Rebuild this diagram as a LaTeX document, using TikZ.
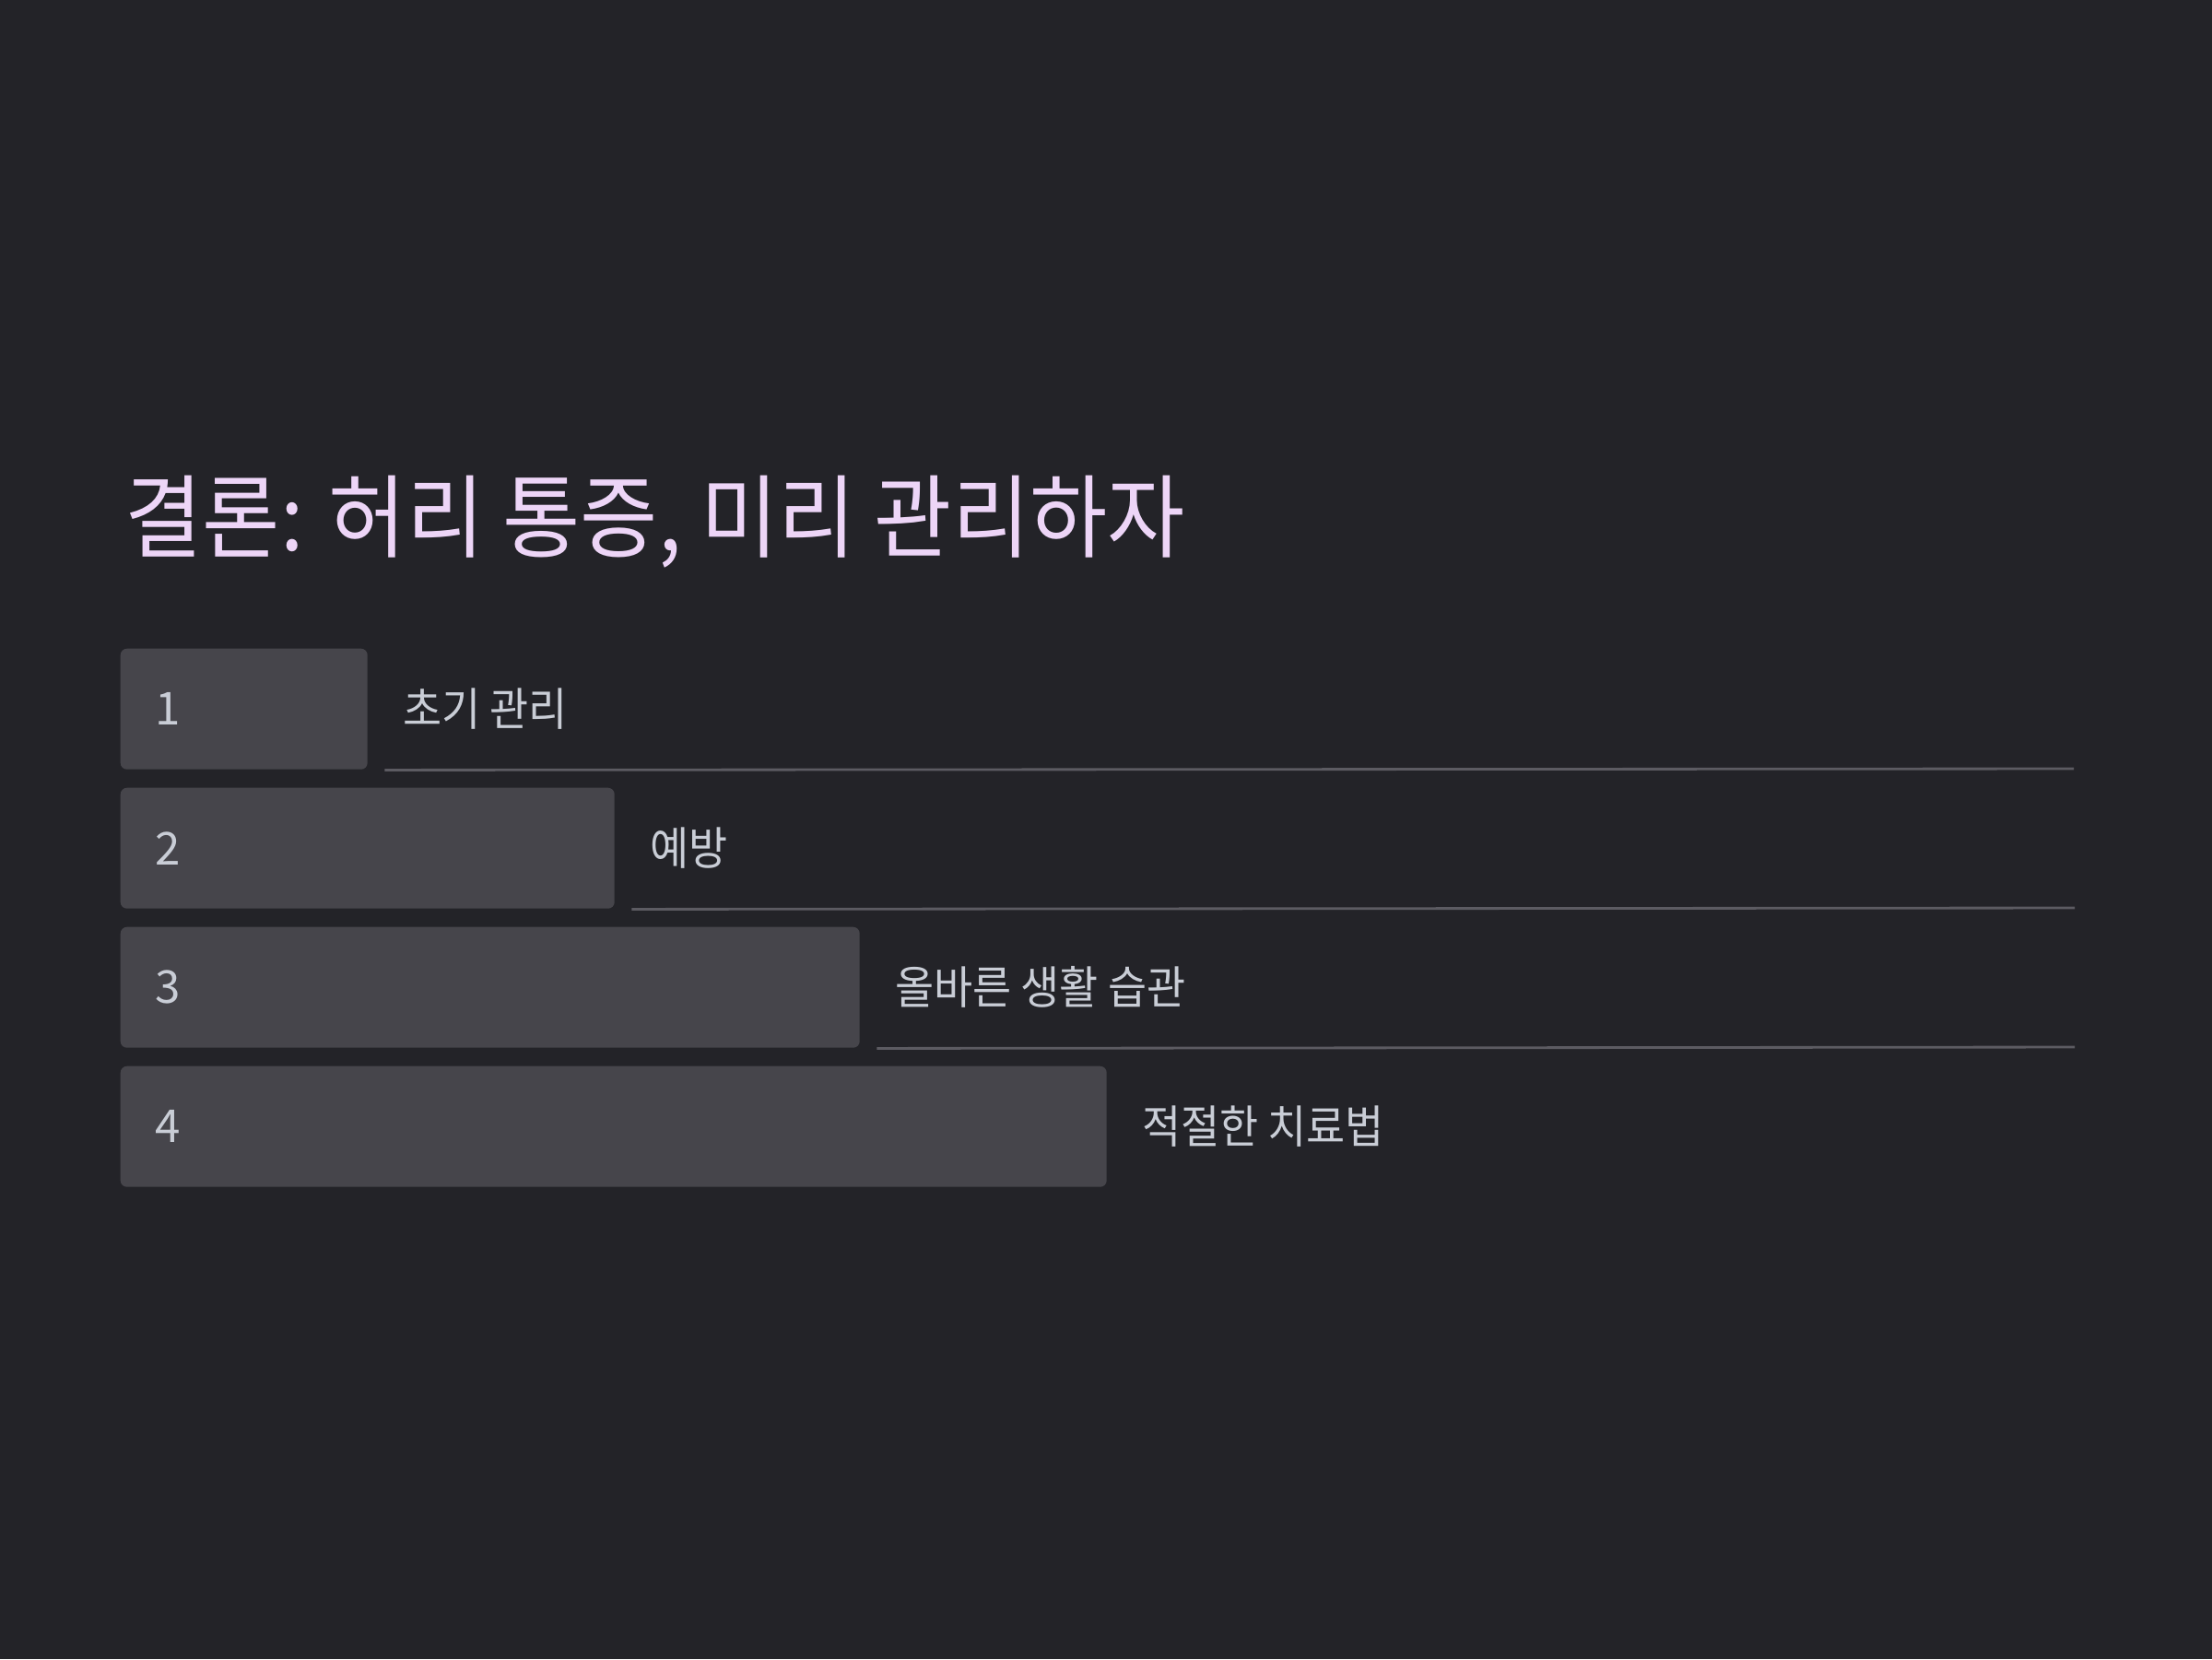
\documentclass[tikz,border=0pt]{standalone}
\usepackage{fontspec}
\setmainfont[FakeStretch=0.93]{Noto Sans CJK KR}
\newfontfamily\digitfont{Noto Sans CJK KR}
\usepackage{xcolor}
\usepackage{tikz}

\definecolor{pagebg}{HTML}{232328}
\definecolor{barfill}{HTML}{46454B}
\definecolor{titlecol}{HTML}{EDD5F7}
\definecolor{textcol}{HTML}{C9CDD6}
\definecolor{rulecol}{HTML}{5C5B62}

\tikzset{
  bar/.style={fill=barfill, draw=none, rounded corners=2pt, anchor=north west, minimum height=1.31cm, inner sep=0pt},
  num/.style={text=textcol, anchor=west, inner sep=0pt, font=\digitfont\fontsize{14pt}{17pt}\selectfont},
  item/.style={text=textcol, anchor=west, inner sep=0pt, font=\fontsize{14pt}{17pt}\selectfont},
  sep/.style={draw=rulecol, line width=0.8pt}
}

\begin{document}
\begin{tikzpicture}
                    \fill[pagebg] (0,0) rectangle (24,-18);
                    \useasboundingbox (0,0) rectangle (24,-18);

                    \node[text=titlecol, anchor=west, inner sep=0pt, font=\fontsize{28pt}{34pt}\selectfont] (T) at (1.35,-5.66) {결론: 허리 통증, 미리 관리하자};

                    \node[bar, minimum width=2.68cm] (B1) at (1.30,-7.03) {};
                    \node[bar, minimum width=5.36cm] (B2) at (1.30,-8.54) {};
                    \node[bar, minimum width=8.02cm] (B3) at (1.30,-10.05) {};
                    \node[bar, minimum width=10.70cm] (B4) at (1.30,-11.56) {};

                    \node[num] (N1) at ([xshift=0.38cm]B1.west) {1};
                    \node[num] (N2) at ([xshift=0.38cm]B2.west) {2};
                    \node[num] (N3) at ([xshift=0.38cm]B3.west) {3};
                    \node[num] (N4) at ([xshift=0.38cm]B4.west) {4};

                    \node[item] (L1) at ([xshift=0.37cm]B1.east) {초기 관리};
                    \node[item] (L2) at ([xshift=0.37cm]B2.east) {예방};
                    \node[item] (L3) at ([xshift=0.37cm]B3.east) {올바른 생활 습관};
                    \node[item] (L4) at ([xshift=0.37cm]B4.east) {적절한 치료법};

                    \coordinate (E1) at (22.50,-8.34);
                    \coordinate (E2) at (22.51,-9.85);
                    \coordinate (E3) at (22.51,-11.36);

                    \draw[sep] ([xshift=0.18cm]B1.south east) -- (E1);
                    \draw[sep] ([xshift=0.18cm]B2.south east) -- (E2);
                    \draw[sep] ([xshift=0.18cm]B3.south east) -- (E3);
                \end{tikzpicture}
\end{document}
